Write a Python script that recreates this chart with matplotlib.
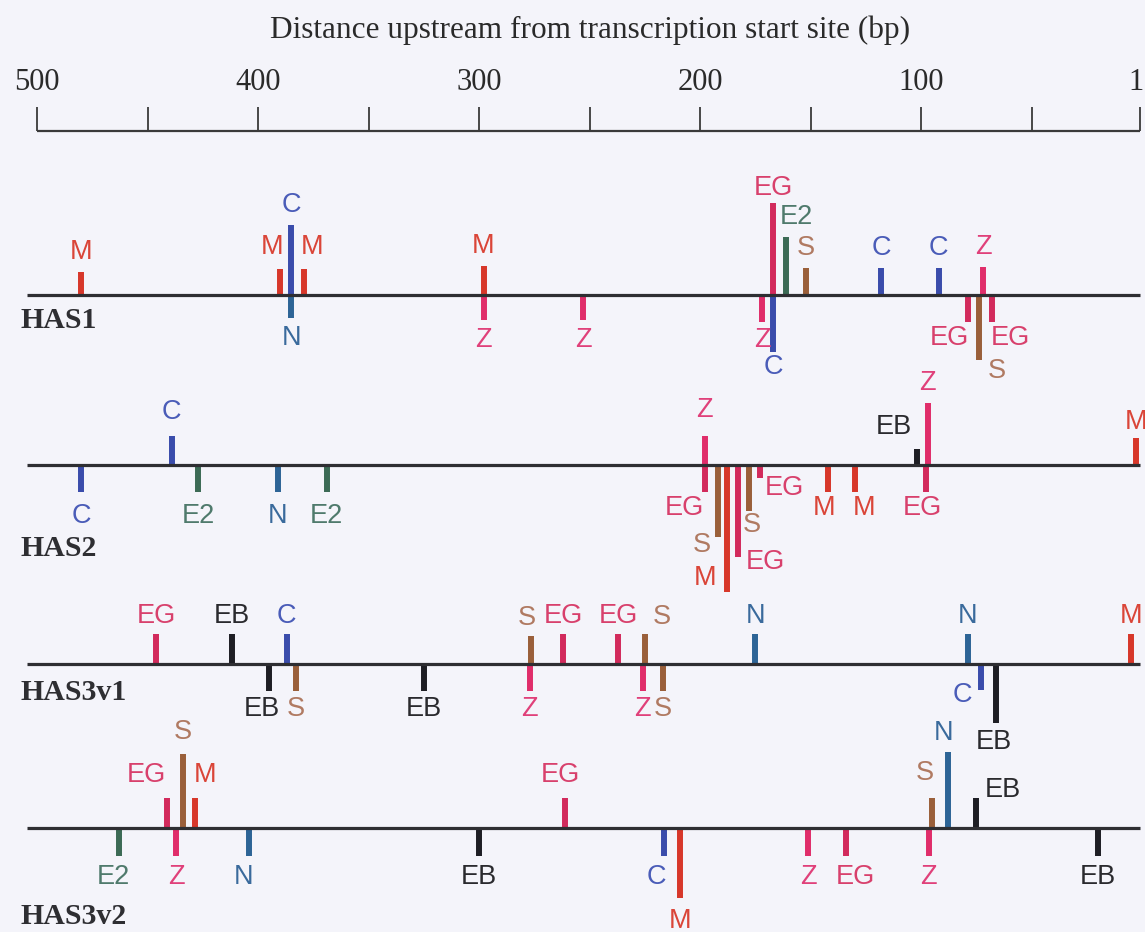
import matplotlib
matplotlib.use("Agg")
import matplotlib.pyplot as plt

# ruler
ruler_ticks = [500, 450, 400, 350, 300, 250, 200, 150, 100, 50, 1]
ruler_labels = ["500", "", "400", "", "300", "", "200", "", "100", "", "1"]
axis_title = "Distance upstream from transcription start site (bp)"

# binding sites per promoter: name, position (bp upstream), bar length (+ up / - down)
has1_sites = ["M", "M", "C", "N", "M", "M", "Z", "Z", "Z", "EG", "C", "E2", "S", "C", "C", "EG", "S", "Z", "EG"]
has1_pos = [480, 390, 385, 385, 379, 298, 298, 253, 172, 167, 167, 161, 152, 118, 92, 79, 74, 72, 68]
has1_len = [23, 26, 70, -23, 26, 29, -25, -25, -27, 92, -57, 58, 27, 27, 27, -27, -65, 28, -27]

has2_sites = ["C", "C", "E2", "N", "E2", "Z", "EG", "S", "M", "EG", "S", "EG", "M", "M", "EB", "Z", "EG", "M"]
has2_pos = [480, 439, 427, 391, 369, 198, 198, 192, 188, 183, 178, 173, 142, 130, 102, 97, 98, 3]
has2_len = [-27, 29, -27, -27, -27, 29, -27, -72, -127, -92, -46, -13, -27, -27, 16, 62, -27, 27]

has3v1_sites = ["EG", "EB", "C", "EB", "S", "EB", "S", "Z", "EG", "EG", "S", "Z", "S", "N", "N", "C", "EB", "M"]
has3v1_pos = [446, 412, 387, 395, 383, 325, 276.5, 277, 262, 237, 225, 226, 217, 175, 79, 73, 66, 5]
has3v1_len = [30, 30, 30, -27, -27, -27, 28, -27, 30, 30, 30, -27, -27, 30, 30, -26, -59, 30]

has3v2_sites = ["E2", "EG", "S", "Z", "M", "N", "EB", "EG", "C", "M", "Z", "EG", "Z", "S", "N", "EB", "EB"]
has3v2_pos = [463, 441, 434, 437, 428.5, 404, 300, 261, 216.5, 209, 151, 134, 96.5, 95, 88, 75, 20]
has3v2_len = [-28, 30, 74, -28, 30, -28, -28, 30, -28, -70, -28, -28, -28, 30, 76, 30, -28]

tracks = [
    ("HAS1", has1_sites, has1_pos, has1_len),
    ("HAS2", has2_sites, has2_pos, has2_len),
    ("HAS3v1", has3v1_sites, has3v1_pos, has3v1_len),
    ("HAS3v2", has3v2_sites, has3v2_pos, has3v2_len),
]

# layout (pixel units, y grows downwards)
baseline_y = {"HAS1": 295, "HAS2": 465, "HAS3v1": 664, "HAS3v2": 828}
name_y = {"HAS1": 321, "HAS2": 549, "HAS3v1": 693, "HAS3v2": 916}
default_gap = {"HAS1": 20, "HAS2": 24, "HAS3v1": 18, "HAS3v2": 21}

# label nudges: (track, site, pos) -> (dx px, gap px)
nudge = {
    ("HAS1", "M", 390): (-8, 22), ("HAS1", "M", 379): (8, 22),
    ("HAS1", "EG", 167): (0, 15), ("HAS1", "C", 167): (0, 15),
    ("HAS1", "EG", 79): (-18, 16), ("HAS1", "S", 74): (18, 11),
    ("HAS1", "EG", 68): (18, 16), ("HAS1", "E2", 161): (10, 20),
    ("HAS1", "Z", 172): (0, 18),
    ("HAS2", "Z", 198): (0, 26), ("HAS2", "EG", 198): (-20, 16),
    ("HAS2", "S", 192): (-16, 8), ("HAS2", "M", 188): (-22, -14),
    ("HAS2", "EG", 183): (28, 5), ("HAS2", "S", 178): (3, 14),
    ("HAS2", "EG", 173): (25, 10), ("HAS2", "M", 142): (-4, 16),
    ("HAS2", "M", 130): (9, 16), ("HAS2", "EB", 102): (-23, 22),
    ("HAS2", "Z", 97): (0, 20), ("HAS2", "EG", 98): (-3, 16),
    ("HAS2", "M", 3): (0, 16),
    ("HAS3v1", "EB", 395): (-7, 18), ("HAS3v1", "S", 225): (17, 17),
    ("HAS3v1", "S", 276.5): (-4, 18),
    ("HAS3v1", "C", 73): (-18, 5), ("HAS3v1", "EB", 66): (-3, 19),
    ("HAS3v2", "EG", 441): (-21, 23), ("HAS3v2", "M", 428.5): (10, 23),
    ("HAS3v2", "E2", 463): (-5, 21), ("HAS3v2", "N", 404): (-6, 21),
    ("HAS3v2", "EG", 261): (-5, 23), ("HAS3v2", "C", 216.5): (-7, 21),
    ("HAS3v2", "M", 209): (0, 23), ("HAS3v2", "EG", 134): (9, 21),
    ("HAS3v2", "S", 95): (-7, 25), ("HAS3v2", "N", 88): (-4, 19),
    ("HAS3v2", "EB", 75): (26, 8), ("HAS3v2", "S", 434): (0, 22),
}

bar_color = {"M": "#d7372a", "EG": "#d22a5c", "Z": "#e02d6a", "C": "#3a4cab",
             "N": "#2d6496", "E2": "#3c6a55", "S": "#9a5f3a", "EB": "#1e1e24"}
text_color = {"M": "#da4538", "EG": "#d8406c", "Z": "#e0407a", "C": "#4a5cb8",
              "N": "#3a6a9c", "E2": "#4f7a6c", "S": "#b07a62", "EB": "#2a2a2e"}

px_per_bp = 2.2104
x0_px = 37


def bp(px):
    # pixel column -> bp on the reversed axis
    return 500 - (px - x0_px) / px_per_bp


fig = plt.figure(figsize=(11.45, 9.32), dpi=100, facecolor="#f4f4fa")
ax = fig.add_axes([0, 0, 1, 1])
ax.set_facecolor("#f4f4fa")
ax.set_xlim(bp(0), bp(1145))
ax.set_ylim(932, 0)
ax.axis("off")

# ruler on top
ax.plot([ruler_ticks[0], ruler_ticks[-1]], [131, 131], color="#3a3a3a", lw=1.6, solid_capstyle="butt")
ax.vlines(ruler_ticks, 107, 131, color="#3a3a3a", lw=1.3)
for t, lab in zip(ruler_ticks, ruler_labels):
    if lab:
        ax.annotate(lab, xy=(t, 82), xytext=(-4 if lab == "1" else 0, 0),
                    textcoords="offset pixels", ha="center", va="center", fontsize=22,
                    family="Liberation Serif", color="#2a2a2a")
ax.text(bp(590), 30, axis_title, ha="center", va="center", fontsize=22.5,
        family="Liberation Serif", color="#2a2a2a")

line_start = bp(27)

for name, sites, pos, length in tracks:
    base = baseline_y[name]
    ax.plot([line_start, ruler_ticks[-1]], [base, base], color="#2e2e32", lw=2.3,
            solid_capstyle="butt", zorder=3)
    for s, p, l in zip(sites, pos, length):
        end = base - l
        ax.plot([p, p], [base, end], color=bar_color[s], lw=4.3,
                solid_capstyle="butt", zorder=2)
        dx, gap = nudge.get((name, s, p), (0, default_gap[name]))
        dy = gap if l > 0 else -gap
        ax.annotate(s, xy=(p, end), xytext=(dx, dy), textcoords="offset pixels",
                    ha="center", va="center", fontsize=19.5, family="Liberation Sans",
                    color=text_color[s], zorder=4)
    ax.text(bp(20), name_y[name], name, ha="left", va="center", fontsize=21.5,
            family="Liberation Serif", fontweight="bold", color="#2e2e32")

fig.savefig("out.png", dpi=100, facecolor=fig.get_facecolor())
